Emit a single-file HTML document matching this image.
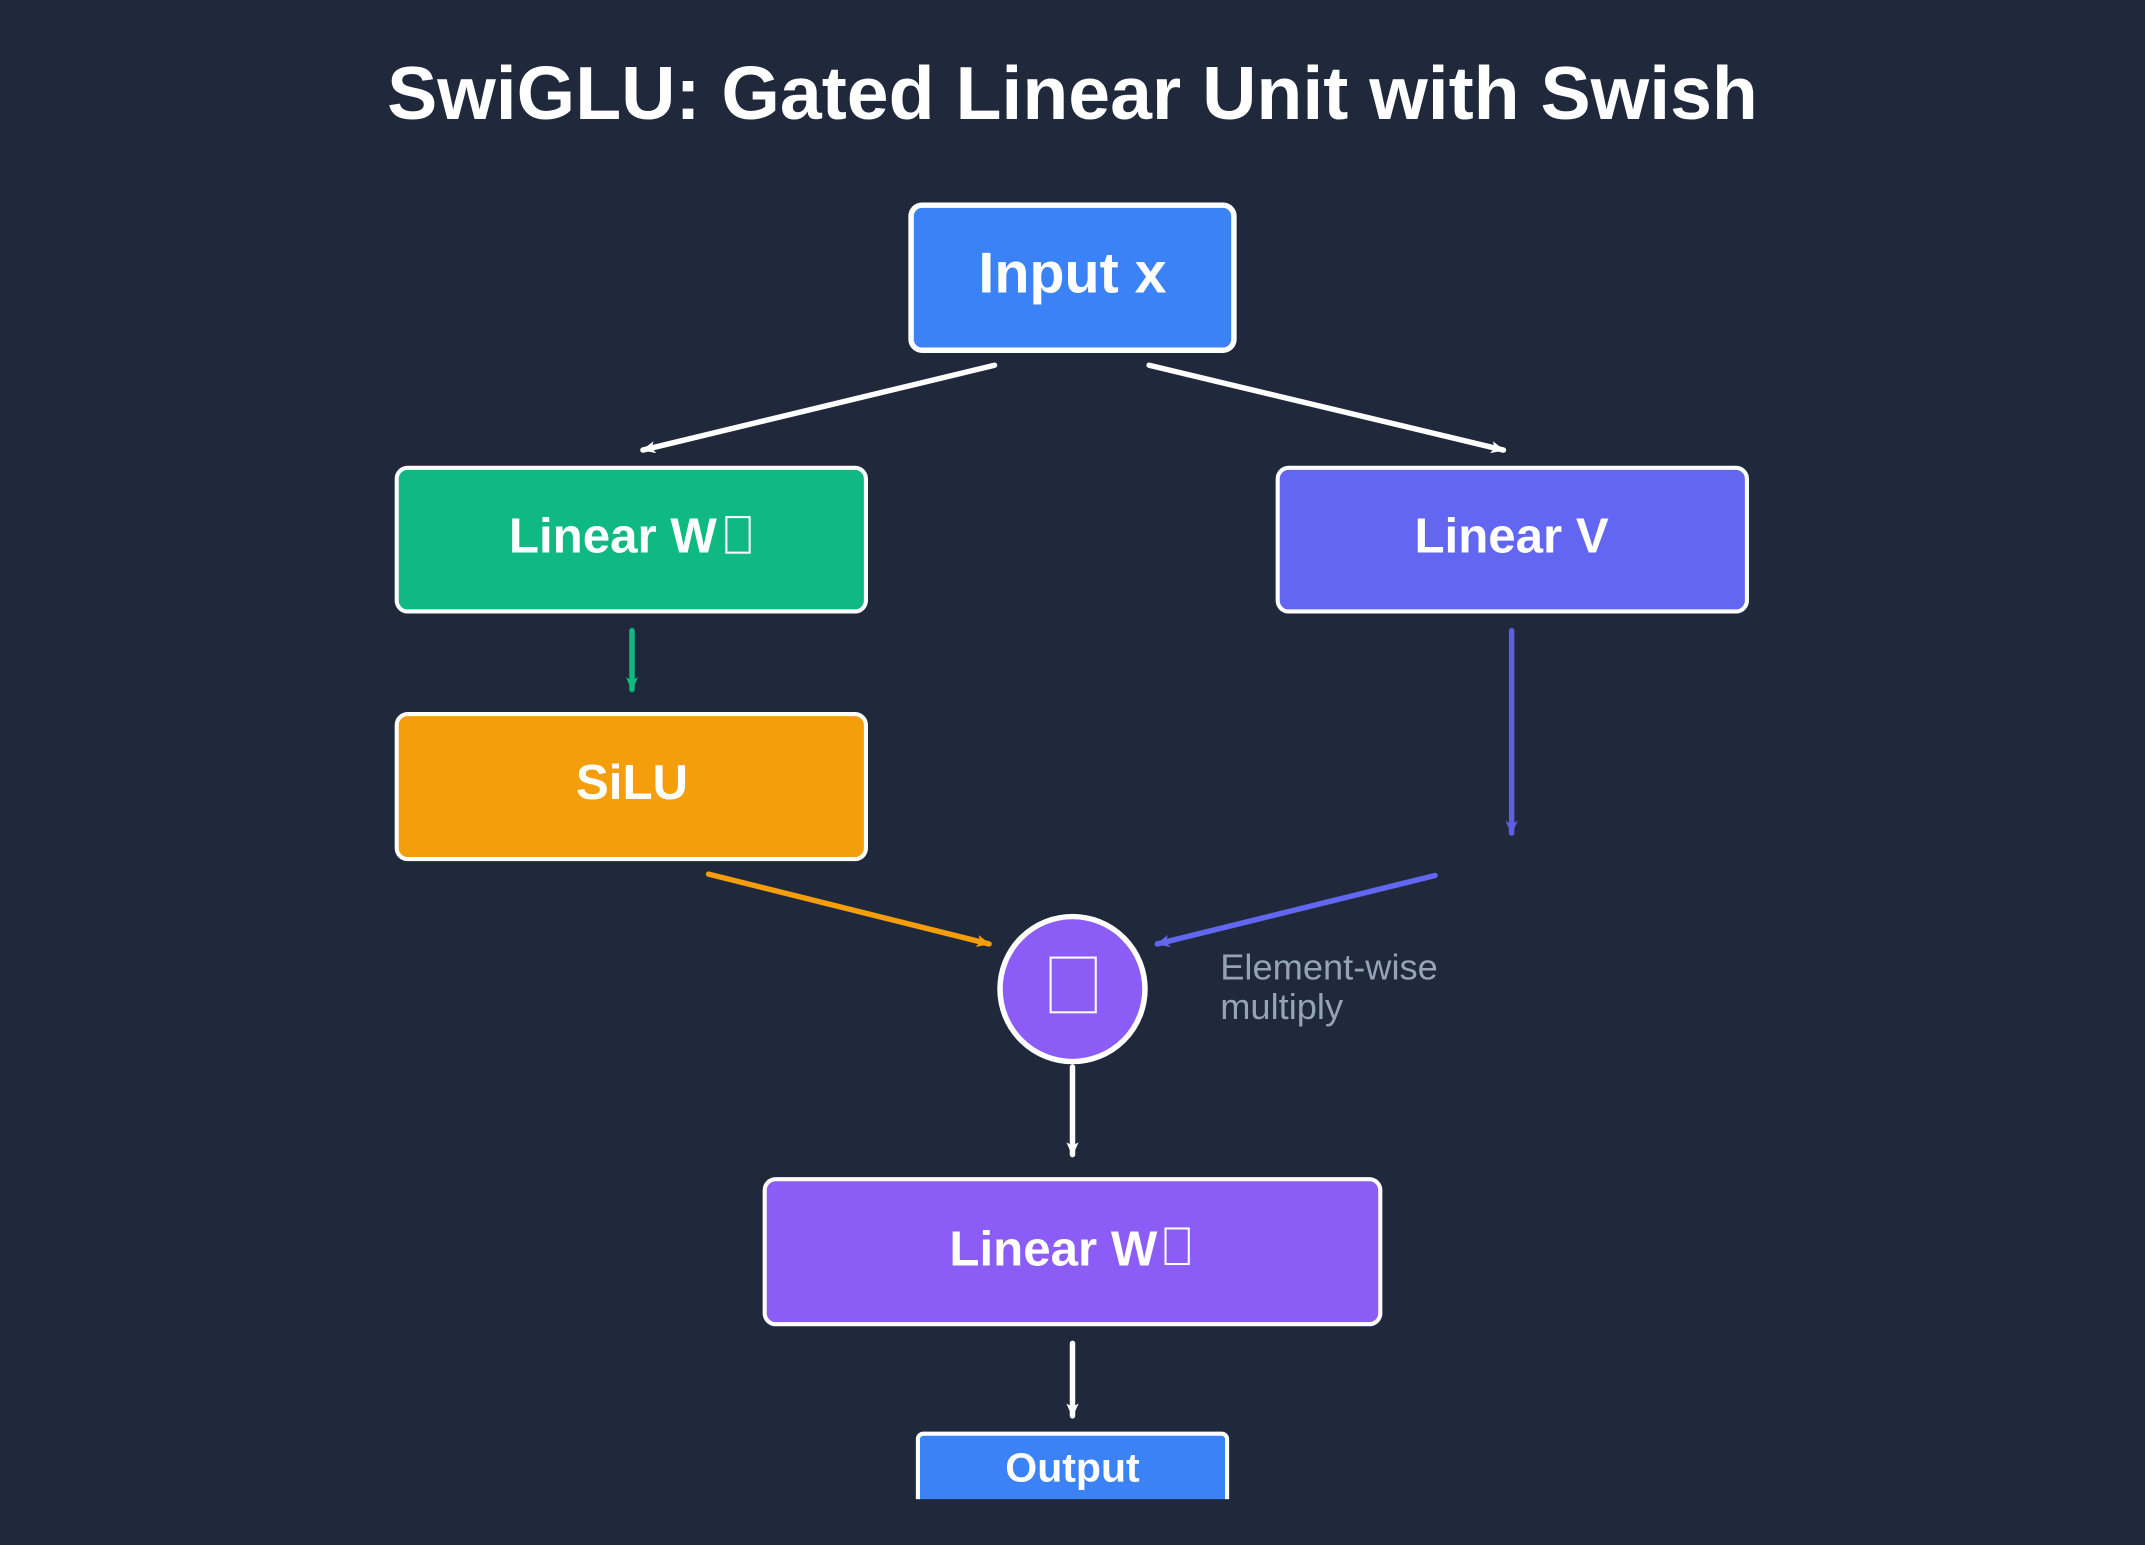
<!DOCTYPE html>
<html><head><meta charset="utf-8"><style>
html,body{margin:0;padding:0;background:#1f293b;}
svg{display:block;}
text{font-family:"Liberation Sans",Arial,sans-serif;}
</style></head><body>
<svg width="2145" height="1545" viewBox="0 0 1568 1129.4" xmlns="http://www.w3.org/2000/svg">
<defs>
<marker id="aw" markerWidth="12" markerHeight="12" refX="9" refY="5" orient="auto" markerUnits="userSpaceOnUse"><path d="M0,0.5 L10,5 L0,9.5 L2.5,5 Z" fill="#fff"/></marker>
<marker id="ag" markerWidth="12" markerHeight="12" refX="9" refY="5" orient="auto" markerUnits="userSpaceOnUse"><path d="M0,0.5 L10,5 L0,9.5 L2.5,5 Z" fill="#10b981"/></marker>
<marker id="av" markerWidth="12" markerHeight="12" refX="9" refY="5" orient="auto" markerUnits="userSpaceOnUse"><path d="M0,0.5 L10,5 L0,9.5 L2.5,5 Z" fill="#5b5fe0"/></marker>
<marker id="ao" markerWidth="12" markerHeight="12" refX="9" refY="5" orient="auto" markerUnits="userSpaceOnUse"><path d="M0,0.5 L10,5 L0,9.5 L2.5,5 Z" fill="#f59e0b"/></marker>
<marker id="ap" markerWidth="12" markerHeight="12" refX="9" refY="5" orient="auto" markerUnits="userSpaceOnUse"><path d="M0,0.5 L10,5 L0,9.5 L2.5,5 Z" fill="#6366f1"/></marker>
</defs>
<rect width="1568" height="1130" fill="#1f293b"/>
<text x="784" y="87" text-anchor="middle" font-size="55" font-weight="bold" fill="#fff">SwiGLU: Gated Linear Unit with Swish</text>

<rect x="666" y="150" width="236" height="106" rx="8" fill="#3b82f6" stroke="#fff" stroke-width="4"/>
<text x="784" y="214" text-anchor="middle" font-size="42" font-weight="bold" fill="#fff">Input x</text>

<line x1="727" y1="267" x2="470" y2="329" stroke="#fff" stroke-width="4" stroke-linecap="round" marker-end="url(#aw)"/>
<line x1="840" y1="267" x2="1099" y2="329" stroke="#fff" stroke-width="4" stroke-linecap="round" marker-end="url(#aw)"/>

<rect x="290" y="342" width="343" height="105" rx="8" fill="#10b981" stroke="#fff" stroke-width="3"/>
<text x="448" y="404" text-anchor="middle" font-size="36" font-weight="bold" fill="#fff">Linear W</text>
<rect x="531" y="378" width="17" height="26" fill="none" stroke="#fff" stroke-width="1.5"/>

<rect x="934" y="342" width="343" height="105" rx="8" fill="#6366f1" stroke="#fff" stroke-width="3"/>
<text x="1105" y="404" text-anchor="middle" font-size="36" font-weight="bold" fill="#fff">Linear V</text>

<line x1="462" y1="461" x2="462" y2="504" stroke="#10b981" stroke-width="4" stroke-linecap="round" marker-end="url(#ag)"/>
<line x1="1105" y1="461" x2="1105" y2="609" stroke="#5b5fe0" stroke-width="4" stroke-linecap="round" marker-end="url(#av)"/>

<rect x="290" y="522" width="343" height="106" rx="8" fill="#f59e0b" stroke="#fff" stroke-width="3"/>
<text x="462" y="584" text-anchor="middle" font-size="36" font-weight="bold" fill="#fff">SiLU</text>

<line x1="518" y1="639" x2="723" y2="690" stroke="#f59e0b" stroke-width="4" stroke-linecap="round" marker-end="url(#ao)"/>
<line x1="1049" y1="640" x2="846" y2="690" stroke="#6366f1" stroke-width="4" stroke-linecap="round" marker-end="url(#ap)"/>

<circle cx="784" cy="723" r="53" fill="#8b5cf6" stroke="#fff" stroke-width="4"/>
<rect x="768" y="700" width="33" height="40" fill="none" stroke="#fff" stroke-width="1.5"/>
<text x="892" y="716" font-size="26.5" fill="#94a3b8">Element-wise</text>
<text x="892" y="745" font-size="26.5" fill="#94a3b8">multiply</text>

<line x1="784" y1="780" x2="784" y2="844" stroke="#fff" stroke-width="4" stroke-linecap="round" marker-end="url(#aw)"/>

<rect x="559" y="862" width="450" height="106" rx="8" fill="#8b5cf6" stroke="#fff" stroke-width="3"/>
<text x="770" y="925" text-anchor="middle" font-size="36" font-weight="bold" fill="#fff">Linear W</text>
<rect x="852" y="898" width="17" height="26" fill="none" stroke="#fff" stroke-width="1.5"/>

<line x1="784" y1="982" x2="784" y2="1035" stroke="#fff" stroke-width="4" stroke-linecap="round" marker-end="url(#aw)"/>

<path d="M671,1096 V1052 a4,4 0 0 1 4,-4 H893 a4,4 0 0 1 4,4 V1096" fill="#3b82f6" stroke="#fff" stroke-width="3"/>
<rect x="669" y="1096" width="230" height="6" fill="#1f293b"/>
<text x="784" y="1083" text-anchor="middle" font-size="30" font-weight="bold" fill="#fff">Output</text>
</svg>
</body></html>
